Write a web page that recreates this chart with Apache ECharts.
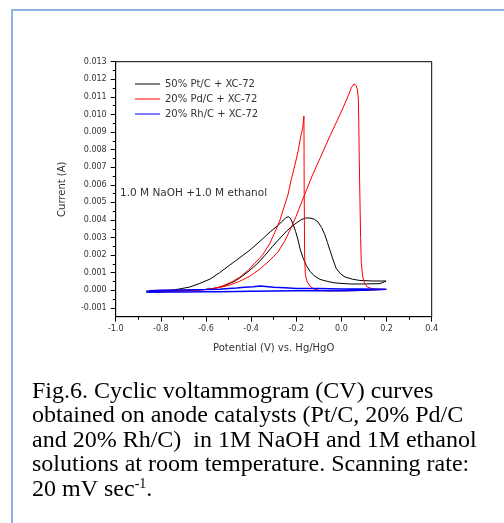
<!DOCTYPE html>
<html>
<head>
<meta charset="utf-8">
<script src="https://cdn.jsdelivr.net/npm/echarts@6/dist/echarts.min.js"></script>
<style>
  html, body { margin: 0; padding: 0; background: #fff; }
  #chart { width: 504px; height: 523px; }
</style>
</head>
<body>
<div id="chart"></div>
<script>
// 50% Pt/C + XC-72 : forward scan then reverse scan (V vs. Hg/HgO, A)
var ptPotential = [-0.86, -0.8, -0.75, -0.7, -0.65, -0.6, -0.56, -0.52, -0.471, -0.44, -0.405, -0.37, -0.338, -0.305, -0.272, -0.24, -0.206, -0.18, -0.161, -0.139, -0.12, -0.104, -0.088, -0.073, -0.062, -0.051, -0.038, -0.024, -0.005, 0.016, 0.05, 0.082, 0.14, 0.198,
                   0.2, 0.171, 0.1, 0.038, -0.028, -0.06, -0.095, -0.12, -0.139, -0.155, -0.17, -0.183, -0.192, -0.203, -0.214, -0.224, -0.233, -0.245, -0.26, -0.285, -0.316, -0.36, -0.405, -0.45, -0.494, -0.54, -0.582, -0.63, -0.671, -0.72, -0.759, -0.8, -0.85];
var ptCurrent = [-0.0001, -0.0001, -0.00005, 0.0, 0.00002, 0.00005, 0.00012, 0.00025, 0.00053, 0.0008, 0.00115, 0.00155, 0.002, 0.0025, 0.00297, 0.0034, 0.00377, 0.004, 0.00411, 0.00411, 0.00404, 0.00389, 0.00358, 0.00315, 0.00272, 0.00229, 0.00178, 0.00127, 0.00095, 0.00076, 0.00063, 0.00056, 0.00053, 0.00053,
                 0.00042, 0.00038, 0.00036, 0.00036, 0.00042, 0.0005, 0.00062, 0.00082, 0.00108, 0.0014, 0.00184, 0.00235, 0.00286, 0.00335, 0.00375, 0.00405, 0.00418, 0.00415, 0.00395, 0.00365, 0.00332, 0.0028, 0.00229, 0.00186, 0.00144, 0.001, 0.00064, 0.00038, 0.00019, 0.00007, 0.0, -0.00003, -0.00005];

// 20% Pd/C + XC-72
var pdPotential = [-0.85, -0.8, -0.7, -0.62, -0.582, -0.54, -0.494, -0.45, -0.405, -0.36, -0.316, -0.28, -0.25, -0.225, -0.201, -0.18, -0.161, -0.13, -0.095, -0.05, -0.006, 0.025, 0.045, 0.056, 0.065, 0.071, 0.075, 0.077, 0.079, 0.082, 0.085, 0.088, 0.094, 0.103, 0.115, 0.14, 0.2,
                   0.2, 0.1, 0.016, -0.065, -0.1, -0.125, -0.14, -0.152, -0.16, -0.163, -0.165, -0.166, -0.172, -0.179, -0.192, -0.206, -0.222, -0.237, -0.255, -0.272, -0.295, -0.316, -0.35, -0.383, -0.415, -0.449, -0.49, -0.538, -0.58, -0.627, -0.7, -0.75, -0.85];
var pdCurrent = [0.0, 0.0, 0.0, 0.00003, 0.00007, 0.00016, 0.0003, 0.00052, 0.00081, 0.00122, 0.00172, 0.0022, 0.00283, 0.0035, 0.0042, 0.0049, 0.0055, 0.0065, 0.0075, 0.0088, 0.0100, 0.0109, 0.01155, 0.01174, 0.01165, 0.0114, 0.0109, 0.0095, 0.0075, 0.0052, 0.003, 0.0016, 0.0008, 0.00038, 0.00018, 0.00008, 0.00005,
                 0.0, 0.0, -0.00003, -0.00003, 0.0, 0.0001, 0.00025, 0.0005, 0.0009, 0.002, 0.006, 0.00991, 0.0092, 0.00883, 0.0079, 0.00713, 0.0063, 0.00542, 0.0047, 0.004, 0.0033, 0.00269, 0.002, 0.00155, 0.00112, 0.00076, 0.00045, 0.00019, 0.00007, 0.00002, -0.00004, -0.00005, -0.00005];

// 20% Rh/C + XC-72
var rhPotential = [-0.865, -0.8, -0.7, -0.6, -0.54, -0.5, -0.464, -0.43, -0.39, -0.36, -0.3, -0.25, -0.2, -0.1, 0.0, 0.1, 0.198,
                   0.198, 0.1, 0.0, -0.2, -0.4, -0.538, -0.6, -0.7, -0.8, -0.865];
var rhCurrent = [-0.00005, 0.0, 0.00002, 0.00004, 0.00006, 0.0001, 0.00013, 0.00017, 0.0002, 0.00024, 0.00018, 0.00015, 0.00011, 0.0001, 0.00008, 0.00007, 0.00006,
                 0.0, 0.0, -0.00002, -0.00003, -0.00005, -0.00008, -0.00008, -0.0001, -0.0001, -0.0001];

var seriesNames = ['50% Pt/C + XC-72', '20% Pd/C + XC-72', '20% Rh/C + XC-72'];
var seriesColors = ['#000000', '#ff0000', '#0000ff'];

var xTicks = { min: -1.0, max: 0.4, step: 0.2 };
var yTicks = { min: -0.001, max: 0.013, step: 0.001 };
var yFloor = -0.0015;

function pairs(xs, ys) {
  var out = [];
  for (var i = 0; i < xs.length; i++) out.push([xs[i], ys[i]]);
  return out;
}

var labelFont = 'DejaVu Sans';
var chart = echarts.init(document.getElementById('chart'), null, { renderer: 'canvas' });

var caption = 'Fig.6. Cyclic voltammogram (CV) curves\n' +
  'obtained on anode catalysts (Pt/C, 20% Pd/C\n' +
  'and 20% Rh/C)  in 1M NaOH and 1M ethanol\n' +
  'solutions at room temperature. Scanning rate:\n' +
  '20 mV sec{sup|-1}.';

var option = {
  animation: false,
  backgroundColor: '#fff',
  grid: [
    { left: 115.7, right: 72.3, top: 61.7, bottom: 206.3, show: true, borderColor: '#000', borderWidth: 1, backgroundColor: 'transparent' },
    // tick grid: same box, ending at the -0.001 tick
    { left: 115.7, right: 72.3, top: 61.7, bottom: 215.1, show: false }
  ],
  xAxis: [
    {
      type: 'value', gridIndex: 0, min: xTicks.min, max: xTicks.max, interval: xTicks.step,
      name: 'Potential (V) vs. Hg/HgO', nameLocation: 'middle', nameGap: 27,
      nameTextStyle: { fontFamily: labelFont, fontSize: 10, color: '#333' },
      axisLine: { onZero: false, lineStyle: { color: '#000', width: 1 } },
      axisTick: { inside: false, length: 5, lineStyle: { color: '#000' } },
      minorTick: { show: true, splitNumber: 2, length: 3, lineStyle: { color: '#000' } },
      splitLine: { show: false },
      axisLabel: { fontFamily: labelFont, fontSize: 8, color: '#333', margin: 8,
        formatter: function (v) { return v.toFixed(1); } }
    },
    { type: 'value', gridIndex: 1, min: xTicks.min, max: xTicks.max, show: false, axisLine: { onZero: false } }
  ],
  yAxis: [
    {
      type: 'value', gridIndex: 0, min: yFloor, max: yTicks.max,
      name: 'Current (A)', nameLocation: 'middle', nameGap: 48,
      nameTextStyle: { fontFamily: labelFont, fontSize: 10, color: '#333' },
      axisLine: { show: true, onZero: false, lineStyle: { color: '#000', width: 1 } },
      axisTick: { show: false }, axisLabel: { show: false }, splitLine: { show: false }
    },
    {
      type: 'value', gridIndex: 1, min: yTicks.min, max: yTicks.max, interval: yTicks.step,
      axisLine: { show: false, onZero: false },
      axisTick: { show: true, inside: false, length: 5, lineStyle: { color: '#000' } },
      minorTick: { show: true, splitNumber: 2, length: 3, lineStyle: { color: '#000' } },
      splitLine: { show: false },
      axisLabel: { fontFamily: labelFont, fontSize: 8, color: '#333', margin: 9,
        formatter: function (v) { return v.toFixed(3); } }
    }
  ],
  legend: {
    orient: 'vertical', left: 130, top: 74, itemWidth: 25, itemHeight: 1, itemGap: 5,
    icon: 'rect',
    textStyle: { fontFamily: labelFont, fontSize: 10, color: '#333' },
    data: seriesNames
  },
  series: [
    { name: seriesNames[0], type: 'line', data: pairs(ptPotential, ptCurrent) },
    { name: seriesNames[1], type: 'line', data: pairs(pdPotential, pdCurrent) },
    { name: seriesNames[2], type: 'line', data: pairs(rhPotential, rhCurrent) }
  ].map(function (s, i) {
    s.xAxisIndex = 0; s.yAxisIndex = 0;
    s.showSymbol = false; s.symbol = 'none'; s.smooth = false;
    s.color = seriesColors[i];
    s.lineStyle = { color: seriesColors[i], width: i === 2 ? 1.5 : 1 };
    return s;
  }),
  graphic: [
    { type: 'line', shape: { x1: 12, y1: 10, x2: 504, y2: 10 }, style: { stroke: '#8db3e2', lineWidth: 2 } },
    { type: 'line', shape: { x1: 12, y1: 9, x2: 12, y2: 523 }, style: { stroke: '#8db3e2', lineWidth: 2 } },
    { type: 'text', left: 120, top: 188,
      style: { text: '1.0 M NaOH +1.0 M ethanol', fontFamily: labelFont, fontSize: 10.5, fill: '#333' } },
    { type: 'text', left: 32, top: 379,
      style: {
        text: caption, fontFamily: 'Liberation Serif', fontSize: 24, lineHeight: 24.6, fill: '#000',
        rich: { sup: { fontFamily: 'Liberation Serif', fontSize: 14, lineHeight: 14, verticalAlign: 'top', fill: '#000' } }
      } }
  ]
};

chart.setOption(option);
</script>
</body>
</html>
